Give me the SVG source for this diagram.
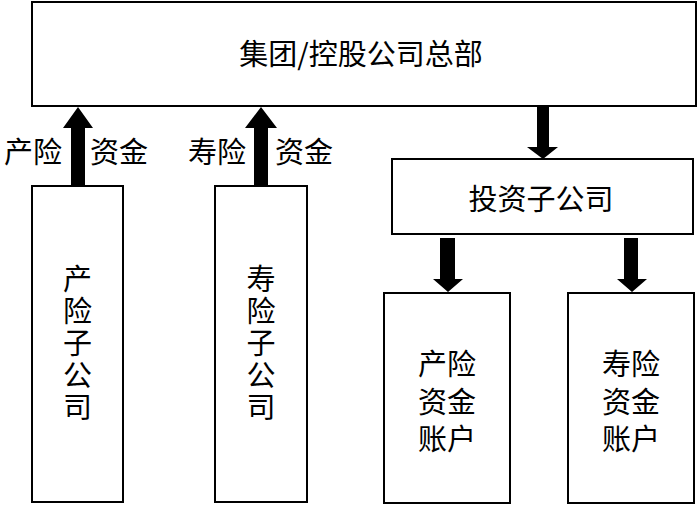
<svg xmlns="http://www.w3.org/2000/svg" width="698" height="505" viewBox="0 0 698 505">
<style>
.box{fill:#fff;stroke:#000;stroke-width:2}
.t{font-family:"Noto Sans CJK SC","Liberation Serif",sans-serif;font-size:29px;fill:#000;text-anchor:middle;dominant-baseline:central}
.v{font-family:"Noto Sans CJK SC",sans-serif;font-size:29px;fill:#000;writing-mode:vertical-rl;text-anchor:middle;letter-spacing:3px}
.arr{fill:#000}
</style>
<rect width="698" height="505" fill="#fff"/>
<g id="hq"><rect class="box" x="32" y="2" width="664" height="104"/><text class="t" x="361" y="52">集团/控股公司总部</text></g>
<g id="pc"><rect class="box" x="32" y="186" width="91" height="316"/>
<text class="v" x="77.5" y="344">产险子公司</text></g>
<g id="life"><rect class="box" x="215" y="186" width="92" height="316"/>
<text class="v" x="261" y="344">寿险子公司</text></g>
<g id="inv"><rect class="box" x="392" y="159" width="301" height="75"/><text class="t" x="541" y="197">投资子公司</text></g>
<g id="pcacc"><rect class="box" x="384" y="293" width="126" height="210"/>
<text class="t"><tspan x="447" y="362">产险</tspan><tspan x="447" y="399.5">资金</tspan><tspan x="447" y="437">账户</tspan></text></g>
<g id="lifeacc"><rect class="box" x="568" y="293" width="126" height="210"/>
<text class="t"><tspan x="631" y="362">寿险</tspan><tspan x="631" y="399.5">资金</tspan><tspan x="631" y="437">账户</tspan></text></g>
<g id="connectors">
<polygon class="arr" points="71,186 85,186 85,128 93,128 78,107 63,128 71,128"/>
<polygon class="arr" points="254,186 268,186 268,128 277,128 261,107 245,128 254,128"/>
<polygon class="arr" points="537,107 549,107 549,147 558,147 543,159 527,147 537,147"/>
<polygon class="arr" points="440,238 455,238 455,279 463,279 448,292 433,279 440,279"/>
<polygon class="arr" points="624,238 638,238 638,279 647,279 632,292 617,279 624,279"/>
<text class="t" x="33" y="150">产险</text><text class="t" x="119" y="150">资金</text>
<text class="t" x="217" y="150">寿险</text><text class="t" x="304" y="150">资金</text>
</g>
</svg>
